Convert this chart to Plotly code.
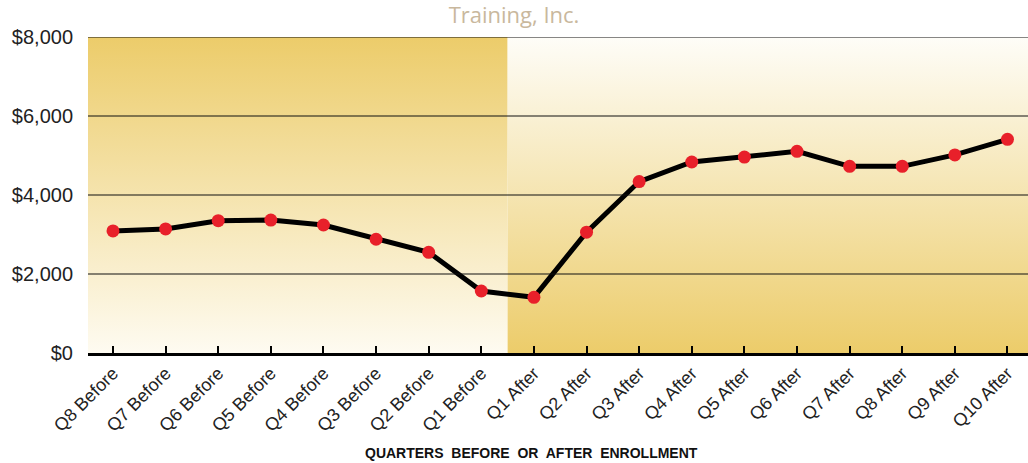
import plotly.graph_objects as go

categories = ["Q8 Before", "Q7 Before", "Q6 Before", "Q5 Before", "Q4 Before", "Q3 Before",
              "Q2 Before", "Q1 Before", "Q1 After", "Q2 After", "Q3 After", "Q4 After",
              "Q5 After", "Q6 After", "Q7 After", "Q8 After", "Q9 After", "Q10 After"]
earnings = [3090, 3140, 3350, 3365, 3240, 2880, 2550, 1570, 1410, 3060, 4340, 4835,
            4960, 5105, 4725, 4725, 5015, 5410]
y_ticks = [0, 2000, 4000, 6000, 8000]
y_labels = ["$0", "$2,000", "$4,000", "$6,000", "$8,000"]
n_before = 8

GOLD = "#ECCC6A"
PALE = "#FEFBF1"

xs = list(range(len(categories)))
x_lo, x_hi = -0.475, len(categories) - 0.61
split = n_before - 0.5
y_top = y_ticks[-1]

fig = go.Figure()
# "before" background: gold at top fading to pale at bottom
fig.add_trace(go.Scatter(
    x=[x_lo - 1, split, split, x_lo - 1, x_lo - 1], y=[0, 0, y_top, y_top, 0],
    mode="lines", line=dict(width=0), fill="toself", hoverinfo="skip", showlegend=False,
    fillgradient=dict(type="vertical", colorscale=[[0, PALE], [1, GOLD]])))
# "after" background: pale at top to gold at bottom
fig.add_trace(go.Scatter(
    x=[split, x_hi + 1, x_hi + 1, split, split], y=[0, 0, y_top, y_top, 0],
    mode="lines", line=dict(width=0), fill="toself", hoverinfo="skip", showlegend=False,
    fillgradient=dict(type="vertical", colorscale=[[0, GOLD], [1, "#FEFDF8"]])))

for yv in y_ticks[1:]:
    fig.add_shape(type="line", xref="paper", x0=0, x1=1, yref="y", y0=yv, y1=yv,
                  line=dict(color="#111111", width=1.2), layer="above")

fig.add_trace(go.Scatter(
    x=xs, y=earnings, mode="lines+markers", showlegend=False,
    line=dict(color="black", width=5),
    marker=dict(color="#E8202A", size=13, line=dict(width=0)),
    cliponaxis=False))

fig.update_layout(
    width=1028, height=463,
    margin=dict(l=88, r=0, t=37, b=110, autoexpand=False),
    paper_bgcolor="white", plot_bgcolor="white",
    title=dict(text="Training, Inc.", x=0.5, xref="container", xanchor="center",
               y=0.967, yref="container", yanchor="middle",
               font=dict(family="Open Sans", size=22, color="#C9B89D")),
    xaxis=dict(range=[x_lo, x_hi], tickmode="array", tickvals=xs, ticktext=categories,
               tickangle=-45, showgrid=False, zeroline=False, automargin=False,
               showline=True, linecolor="black", linewidth=2.5,
               ticks="inside", ticklen=7, tickwidth=2, tickcolor="black",
               tickfont=dict(family="Liberation Sans", size=18, color="#222")),
    yaxis=dict(range=[0, y_top], tickmode="array", tickvals=y_ticks, ticktext=y_labels,
               showgrid=False, zeroline=False, showline=False, ticks="", automargin=False,
               ticklabelstandoff=14,
               tickfont=dict(family="Liberation Sans", size=20, color="#222")),
    annotations=[dict(text="QUARTERS  BEFORE  OR  AFTER  ENROLLMENT", xref="paper", yref="paper",
                      x=(531 - 88) / 940, y=-0.315, xanchor="center", yanchor="middle",
                      showarrow=False,
                      font=dict(family="Liberation Sans", size=14, color="#111", weight="bold"))],
)

fig.write_html("out.html", config={"displayModeBar": False},
               post_script="document.body.style.margin='0';document.body.style.overflow='hidden';")
